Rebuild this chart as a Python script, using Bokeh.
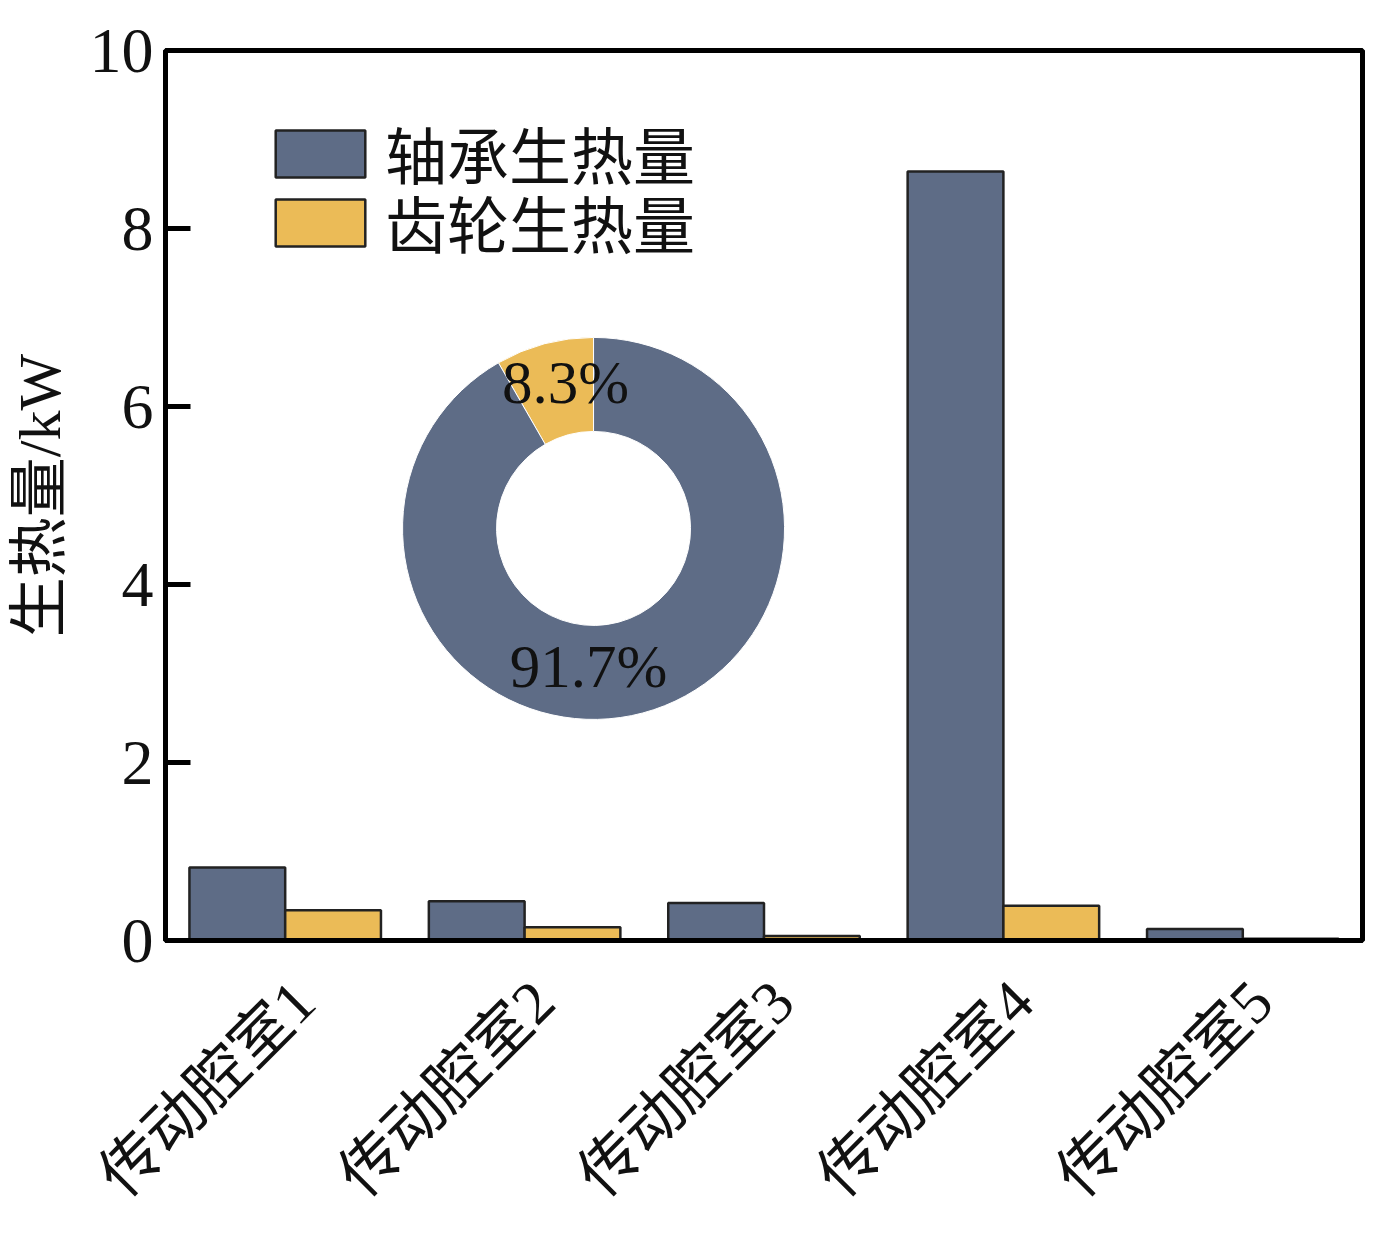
import math
from bokeh.plotting import figure
from bokeh.models import Range1d, FixedTicker, Legend, LegendItem, ColumnDataSource
from bokeh.core.properties import value
from bokeh.embed import file_html
from bokeh.resources import INLINE

# ---------------- data ----------------
categories = ["传动腔室1", "传动腔室2", "传动腔室3", "传动腔室4", "传动腔室5"]
bearing_heat = [0.82, 0.44, 0.42, 8.64, 0.13]   # 轴承生热量 (kW)
gear_heat = [0.34, 0.15, 0.05, 0.39, 0.02]      # 齿轮生热量 (kW)
series_names = ["轴承生热量", "齿轮生热量"]
pie_share = [91.7, 8.3]                          # % bearing, % gear
y_ticks = [0, 2, 4, 6, 8, 10]

# ---------------- style ----------------
BLUE = "#5e6c86"
YELLOW = "#ebbb57"
SERIF_CJK = "Liberation Serif, Noto Sans CJK SC"

p = figure(width=1380, height=1235, output_backend="svg", toolbar_location=None,
           x_range=Range1d(0, len(categories)), y_range=Range1d(0, 10),
           min_border_left=165, min_border_right=18, min_border_top=50, min_border_bottom=295)
p.grid.visible = False
p.background_fill_color = "white"
p.border_fill_color = "white"
p.outline_line_color = "black"
p.outline_line_width = 5

n = len(categories)
bw = 0.4
xb = [i + 0.5 - bw / 2 for i in range(n)]
xg = [i + 0.5 + bw / 2 for i in range(n)]

src_b = ColumnDataSource(dict(x=xb, top=bearing_heat))
src_g = ColumnDataSource(dict(x=xg, top=gear_heat))
rb = p.vbar(x="x", top="top", width=bw, source=src_b, fill_color=BLUE,
            line_color="#222222", line_width=2.5)
rg = p.vbar(x="x", top="top", width=bw, source=src_g, fill_color=YELLOW,
            line_color="#222222", line_width=2.5)

# ---------------- donut ----------------
cx, cy = 1.788, 4.63
frac_g = pie_share[1] / 100.0
a0 = math.pi / 2
a1 = a0 + 2 * math.pi * frac_g
a2 = a0 + 2 * math.pi
p.annular_wedge(x=[cx, cx], y=[cy, cy], inner_radius=97, outer_radius=191,
                inner_radius_units="screen", outer_radius_units="screen",
                start_angle=[a0, a1], end_angle=[a1, a2],
                fill_color=[YELLOW, BLUE], line_color="white", line_width=1)
p.text(x=[cx, cx], y=[cy, cy],
       text=[f"{pie_share[1]}%", f"{pie_share[0]}%"],
       x_offset=[-28, -5], y_offset=[-146, 138],
       text_align="center", text_baseline="middle",
       text_font=value("Liberation Serif"), text_font_size="61px", text_color="#111111")

# ---------------- axes ----------------
yax = p.yaxis[0]
yax.ticker = FixedTicker(ticks=y_ticks)
yax.major_tick_in = 25
yax.major_tick_out = 0
yax.minor_tick_line_color = None
yax.major_tick_line_width = 5
yax.axis_line_width = 5
yax.major_label_text_font = "Liberation Serif"
yax.major_label_text_font_size = "64px"
yax.major_label_text_color = "#111111"
yax.major_label_standoff = 12
yax.axis_label = "生热量/kW"
yax.axis_label_text_font = SERIF_CJK
yax.axis_label_text_font_size = "60px"
yax.axis_label_text_font_style = "normal"
yax.axis_label_text_color = "#111111"
yax.axis_label_standoff = 14

label_shift = 0.08
xax = p.xaxis[0]
xax.ticker = FixedTicker(ticks=[i + 0.5 + label_shift for i in range(n)])
xax.major_label_overrides = {i + 0.5 + label_shift: c for i, c in enumerate(categories)}
xax.major_tick_line_color = None
xax.minor_tick_line_color = None
xax.axis_line_width = 5
xax.major_label_orientation = math.pi / 4
xax.major_label_text_font = SERIF_CJK
xax.major_label_text_font_size = "61px"
xax.major_label_text_color = "#111111"
xax.major_label_standoff = 45

# ---------------- legend (one box per series) ----------------
legend_common = dict(glyph_width=112, glyph_height=59, padding=0, label_standoff=9,
                     label_text_font=SERIF_CJK, label_text_font_size="62px",
                     label_text_color="#111111", border_line_color=None,
                     background_fill_alpha=0)
legend1 = Legend(items=[LegendItem(label=series_names[0], renderers=[rb])],
                 location=(99, 742), **legend_common)
legend2 = Legend(items=[LegendItem(label=series_names[1], renderers=[rg])],
                 location=(99, 673), **legend_common)
p.add_layout(legend1, "center")
p.add_layout(legend2, "center")

open("out.html", "w").write(file_html(p, INLINE))
